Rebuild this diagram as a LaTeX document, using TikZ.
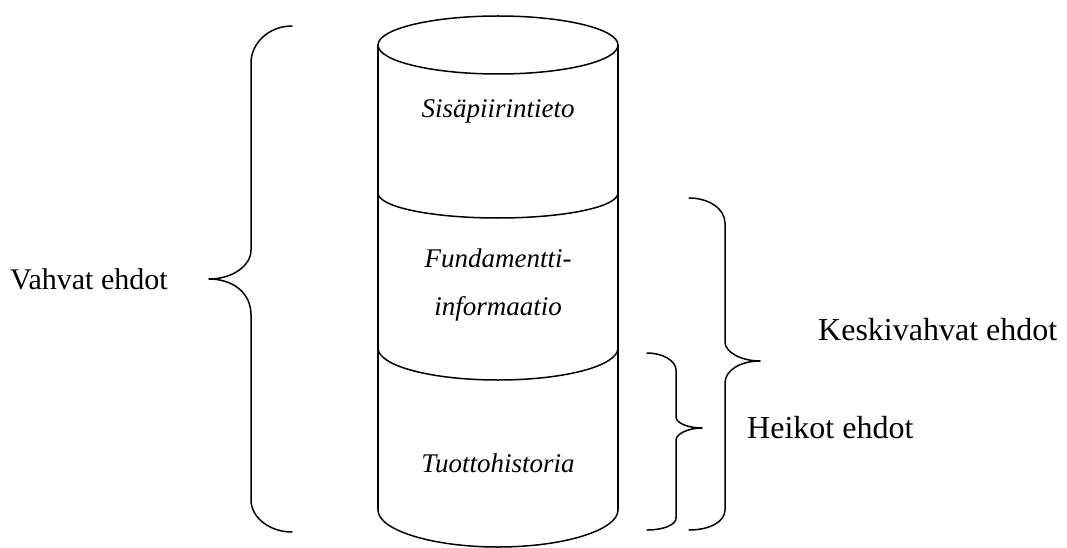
\documentclass[tikz,border=0pt]{standalone}
\usepackage{fontspec}
\setmainfont{Liberation Serif}
\begin{document}
\begin{tikzpicture}[x=1pt,y=-1pt,
  ln/.style={line width=1.5pt, line cap=round, line join=round},
  lbl/.style={font=\fontsize{31}{36}\selectfont, anchor=base west, inner sep=0pt},
  itl/.style={font=\fontsize{27}{32}\selectfont\itshape, anchor=base, inner sep=0pt}]
\useasboundingbox[fill=white] (0,0) rectangle (1067,548);
% cylinder
\draw[ln] (498,45) ellipse [x radius=120, y radius=29];
\draw[ln] (378,45) -- (378,510);
\draw[ln] (618,45) -- (618,510);
\draw[ln] (378,193) .. controls (378,207) and (432,218) .. (498,218) .. controls (564,218) and (618,207) .. (618,193);
\draw[ln] (378,348) .. controls (378,366) and (432,380) .. (498,380) .. controls (564,380) and (618,366) .. (618,348);
\draw[ln] (378,510) .. controls (378,530) and (432,547) .. (498,547) .. controls (564,547) and (618,530) .. (618,510);
% texts in cylinder
\node[itl] (sis) at (498,118) {Sisäpiirintieto};
\node[itl] (fun1) at (498,267) {Fundamentti-};
\node[itl] (fun2) at (498,315) {informaatio};
\node[itl] (tuo) at (498,472) {Tuottohistoria};
% left brace
\draw[ln] (292,26) .. controls (269,26) and (251,43) .. (251,63) -- (251,250)
  .. controls (251,266) and (232,279) .. (209,279)
  .. controls (232,279) and (251,292) .. (251,315) -- (251,500)
  .. controls (251,517) and (269,532) .. (292,532);
% right brace 1
\draw[ln] (689,198) .. controls (709,198) and (725,209) .. (725,223) -- (725,342)
  .. controls (725,352) and (741,361) .. (760,361)
  .. controls (741,361) and (725,370) .. (725,383) -- (725,510)
  .. controls (725,522) and (709,530) .. (689,530);
% right brace 2
\draw[ln] (647,353) .. controls (663,353) and (676,361) .. (676,370) -- (676,417)
  .. controls (676,423) and (688,428) .. (702,428)
  .. controls (688,428) and (676,434) .. (676,440) -- (676,518)
  .. controls (676,525) and (663,530) .. (647,530);
% labels
\node[lbl, font=\fontsize{30}{36}\selectfont] (vah) at (10,289) {Vahvat ehdot};
\node[lbl, font=\fontsize{32}{36}\selectfont] (kes) at (818,340) {Keskivahvat ehdot};
\node[lbl, font=\fontsize{32}{36}\selectfont] (hei) at (747,438) {Heikot ehdot};
\end{tikzpicture}
\end{document}
